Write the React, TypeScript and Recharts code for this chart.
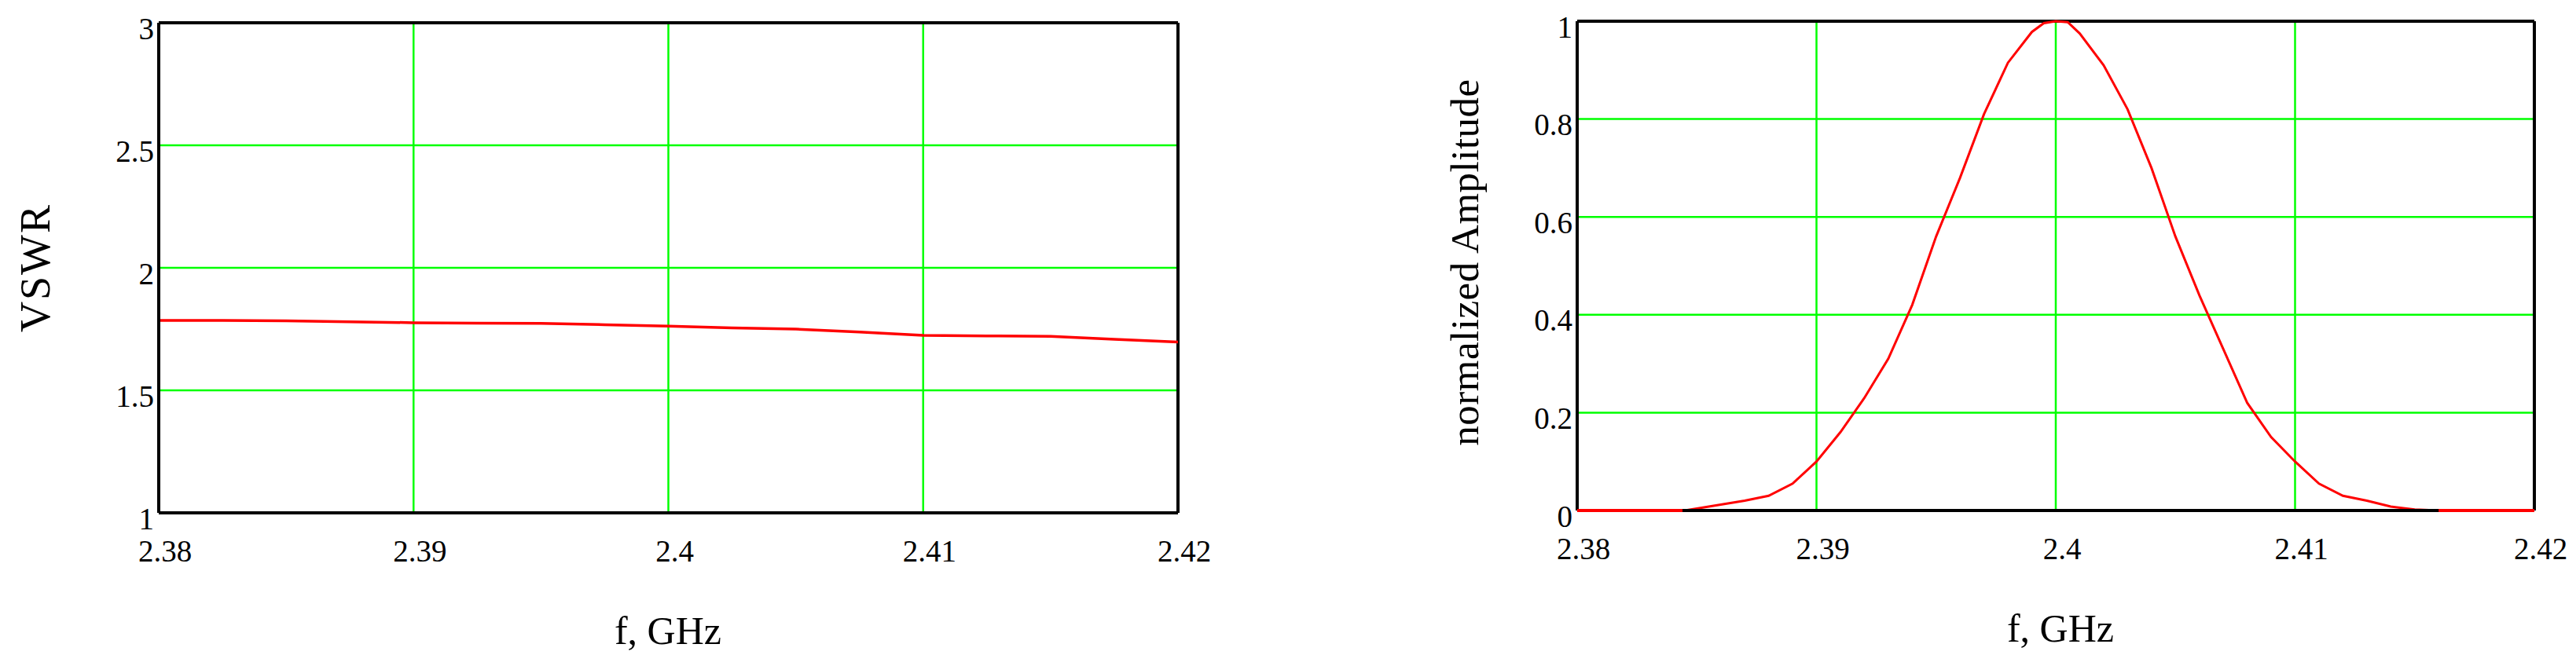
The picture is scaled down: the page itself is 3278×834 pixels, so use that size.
import { CartesianGrid, Label, Line, LineChart, ReferenceLine, XAxis, YAxis } from "recharts";

const freqTicks = [2.38, 2.39, 2.4, 2.41, 2.42];
const vswrTicks = [1, 1.5, 2, 2.5, 3];
const ampTicks = [0, 0.2, 0.4, 0.6, 0.8, 1];

const vswrFreq = [
  2.38, 2.3825, 2.385, 2.3875, 2.39, 2.3925, 2.395, 2.3975, 2.4, 2.4025, 2.405,
  2.4075, 2.41, 2.4125, 2.415, 2.4175, 2.42,
];
const vswrValues = [
  1.785, 1.785, 1.784, 1.78, 1.776, 1.774, 1.773, 1.768, 1.762, 1.755, 1.75,
  1.738, 1.724, 1.722, 1.72, 1.708, 1.697,
];

const ampFreq = [
  2.3845, 2.385, 2.386, 2.387, 2.388, 2.389, 2.39, 2.391, 2.392, 2.393, 2.394,
  2.395, 2.396, 2.397, 2.398, 2.399, 2.3995, 2.4, 2.4005, 2.401, 2.402, 2.403,
  2.404, 2.405, 2.406, 2.407, 2.408, 2.409, 2.41, 2.411, 2.412, 2.413, 2.414,
  2.415, 2.416,
];
const ampValues = [
  0, 0.004, 0.012, 0.02, 0.03, 0.055, 0.1, 0.16, 0.23, 0.31, 0.42, 0.56, 0.68,
  0.81, 0.915, 0.978, 0.996, 1, 0.998, 0.975, 0.91, 0.82, 0.7, 0.56, 0.44, 0.33,
  0.22, 0.15, 0.1, 0.055, 0.03, 0.02, 0.008, 0.002, 0,
];

// flat zero stretches outside the pulse, drawn over the frame
const tailLeftFreq = [2.38, 2.3844];
const tailRightFreq = [2.416, 2.42];

const vswrData = vswrFreq.map((f, i) => ({ f, v: vswrValues[i] }));
const ampData = ampFreq.map((f, i) => ({ f, a: ampValues[i] }));
const tailLeft = tailLeftFreq.map((f) => ({ f, a: 0 }));
const tailRight = tailRightFreq.map((f) => ({ f, a: 0 }));

const FONT = '"Liberation Serif", "Times New Roman", serif';
const GRID = "#00ff00";
const RED = "#ff0000";
const frame = { stroke: "#000", strokeWidth: 4 };

function XTick(props: any) {
  const { x, y, payload } = props;
  return (
    <text
      x={x + 8}
      y={y + 40}
      textAnchor="middle"
      dominantBaseline="central"
      fontFamily={FONT}
      fontSize={39}
      fill="#000"
    >
      {String(payload.value)}
    </text>
  );
}

function YTick(props: any) {
  const { x, y, payload } = props;
  return (
    <text
      x={x + 2}
      y={y + 7}
      textAnchor="end"
      dominantBaseline="central"
      fontFamily={FONT}
      fontSize={39}
      fill="#000"
    >
      {String(payload.value)}
    </text>
  );
}

function axisTitle(text: string, dx: number, dy: number, rotate: boolean, size: number, spacing: number) {
  return (props: any) => {
    const vb = props.viewBox;
    const cx = vb.x + dx;
    const cy = vb.y + dy;
    return (
      <text
        x={cx}
        y={cy}
        textAnchor="middle"
        dominantBaseline="central"
        fontFamily={FONT}
        fontSize={size}
        letterSpacing={spacing}
        fill="#000"
        transform={rotate ? `rotate(-90 ${cx} ${cy})` : undefined}
      >
        {text}
      </text>
    );
  };
}

function VswrChart() {
  return (
    <LineChart
      width={1600}
      height={834}
      data={vswrData}
      margin={{ top: 29, right: 101, bottom: 10, left: 52 }}
    >
      <CartesianGrid stroke={GRID} strokeWidth={2.5} />
      <XAxis
        type="number"
        dataKey="f"
        domain={[2.38, 2.42]}
        ticks={freqTicks}
        height={171}
        axisLine={frame}
        tickLine={false}
        tick={<XTick />}
        interval={0}
      >
        <Label content={axisTitle("f, GHz", 648, 150, false, 50, 0)} />
      </XAxis>
      <YAxis
        type="number"
        domain={[1, 3]}
        ticks={vswrTicks}
        width={150}
        axisLine={frame}
        tickLine={false}
        tick={<YTick />}
        interval={0}
      >
        <Label content={axisTitle("VSWR", -7, 312, true, 54, 2)} />
      </YAxis>
      <ReferenceLine y={3} stroke="#000" strokeWidth={4} />
      <ReferenceLine x={2.42} stroke="#000" strokeWidth={4} />
      <Line
        type="linear"
        dataKey="v"
        stroke={RED}
        strokeWidth={3.5}
        dot={false}
        isAnimationActive={false}
      />
    </LineChart>
  );
}

function AmplitudeChart() {
  return (
    <LineChart
      width={1638}
      height={834}
      margin={{ top: 27, right: 53, bottom: 10, left: 217 }}
    >
      <CartesianGrid stroke={GRID} strokeWidth={2.5} />
      <XAxis
        type="number"
        dataKey="f"
        domain={[2.38, 2.42]}
        ticks={freqTicks}
        height={174}
        axisLine={frame}
        tickLine={false}
        tick={<XTick />}
        interval={0}
        allowDuplicatedCategory={false}
      >
        <Label content={axisTitle("f, GHz", 615, 150, false, 50, 0)} />
      </XAxis>
      <YAxis
        type="number"
        domain={[0, 1]}
        ticks={ampTicks}
        width={150}
        axisLine={frame}
        tickLine={false}
        tick={<YTick />}
        interval={0}
      >
        <Label content={axisTitle("normalized Amplitude", 7, 307, true, 51, 0.5)} />
      </YAxis>
      <ReferenceLine y={1} stroke="#000" strokeWidth={4} />
      <ReferenceLine x={2.42} stroke="#000" strokeWidth={4} />
      <Line
        data={ampData}
        type="linear"
        dataKey="a"
        stroke={RED}
        strokeWidth={3}
        dot={false}
        isAnimationActive={false}
      />
      <Line
        data={tailLeft}
        type="linear"
        dataKey="a"
        stroke={RED}
        strokeWidth={4}
        dot={false}
        isAnimationActive={false}
        {...({ zIndex: 600 } as any)}
      />
      <Line
        data={tailRight}
        type="linear"
        dataKey="a"
        stroke={RED}
        strokeWidth={4}
        dot={false}
        isAnimationActive={false}
        {...({ zIndex: 600 } as any)}
      />
    </LineChart>
  );
}

export default function App() {
  return (
    <div style={{ position: "absolute", left: 0, top: 0, width: 3278, height: 834, background: "#fff" }}>
      <div style={{ position: "absolute", left: 0, top: 0 }}>
        <VswrChart />
      </div>
      <div style={{ position: "absolute", left: 1640, top: 0 }}>
        <AmplitudeChart />
      </div>
    </div>
  );
}
